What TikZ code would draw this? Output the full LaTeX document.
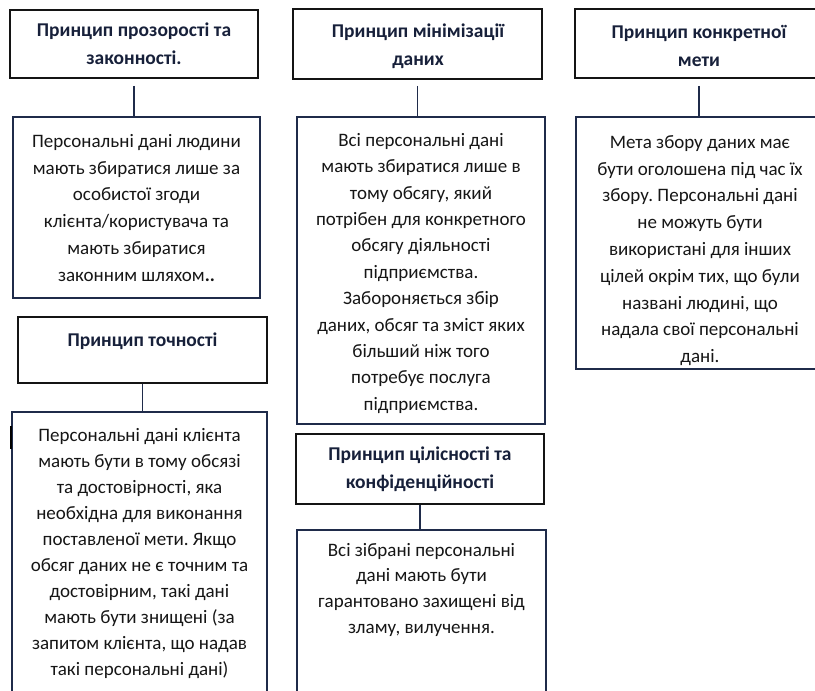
\documentclass[tikz,border=0pt]{standalone}
\usepackage{fontspec}
\setmainfont{Carlito}
\frenchspacing
\definecolor{navy}{HTML}{1F2B4A}
\definecolor{headblue}{HTML}{17203A}
\definecolor{ink}{HTML}{161616}
\tikzset{
  head/.style={draw=black!92, line width=1.8pt, fill=white, inner sep=0pt},
  body/.style={draw=navy, line width=1.8pt, fill=white, inner sep=0pt},
  headtext/.style={font=\fontsize{19.5}{28}\selectfont\bfseries, text=headblue, align=center, inner sep=0pt},
  bodytext/.style={font=\fontsize{19}{26.8}\selectfont, text=ink, align=center, inner sep=0pt, anchor=north},
  link/.style={draw=navy, line width=1.4pt}
}
\begin{document}
\begin{tikzpicture}[x=1pt,y=-1pt]
\useasboundingbox (0,0) rectangle (815,691);
\clip (0,0) rectangle (815,691);
\fill[white] (0,0) rectangle (815,691);

% left column
\node[head, minimum width=248pt, minimum height=68pt] (h1) at (134,44) {};
\node[headtext] (h1t) at (h1.center) {Принцип прозорості та\\законності.};
\node[body, minimum width=247pt, minimum height=181pt] (b1) at (136.5,207.5) {};
\node[bodytext] (b1t) at ([yshift=-18pt]b1.north) {Персональні дані людини\\мають збиратися лише за\\особистої згоди\\клієнта/користувача та\\мають збиратися\\законним шляхом\textbf{..}};

\node[head, minimum width=249pt, minimum height=66pt] (h4) at (142.5,350) {};
\node[headtext] (h4t) at (142.5,341) {Принцип точності};
\node[body, minimum width=255pt, minimum height=308pt] (b4) at (139.5,566) {};
\node[bodytext, font=\fontsize{19}{26}\selectfont] (b4t) at ([yshift=-17pt]b4.north) {Персональні дані клієнта\\мають бути в тому обсязі\\та достовірності, яка\\необхідна для виконання\\поставленої мети. Якщо\\обсяг даних не є точним та\\достовірним, такі дані\\мають бути знищені (за\\запитом клієнта, що надав\\такі персональні дані)};
\draw[black, line width=2.6pt] ([yshift=-15pt]b4.north west) -- ([yshift=-38pt]b4.north west);

% middle column
\node[head, minimum width=249pt, minimum height=70pt] (h2) at (417.5,44) {};
\node[headtext] (h2t) at (418,46) {Принцип мінімізації\\даних};
\node[body, minimum width=248pt, minimum height=307pt] (b2) at (421,270.5) {};
\node[bodytext, font=\fontsize{19}{26.4}\selectfont] (b2t) at ([yshift=-17pt]b2.north) {Всі персональні дані\\мають збиратися лише в\\тому обсягу, який\\потрібен для конкретного\\обсягу діяльності\\підприємства.\\Забороняється збір\\даних, обсяг та зміст яких\\більший ніж того\\потребує послуга\\підприємства.};

\node[head, minimum width=248pt, minimum height=70pt] (h5) at (420,469) {};
\node[headtext] (h5t) at (h5.center) {Принцип цілісності та\\конфіденційності};
\node[body, minimum width=249pt, minimum height=190pt] (b5) at (421.5,625) {};
\node[bodytext, font=\fontsize{19}{25.6}\selectfont] (b5t) at ([yshift=-14pt]b5.north) {Всі зібрані персональні\\дані мають бути\\гарантовано захищені від\\зламу, вилучення.};

% right column
\node[head, minimum width=248pt, minimum height=69pt] (h3) at (699,43.5) {};
\node[headtext] (h3t) at (699,46) {Принцип конкретної\\мети};
\node[body, minimum width=248pt, minimum height=252pt] (b3) at (700,243) {};
\node[bodytext] (b3t) at ([yshift=-19pt]b3.north) {Мета збору даних має\\бути оголошена під час їх\\збору. Персональні дані\\не можуть бути\\використані для інших\\цілей окрім тих, що були\\названі людині, що\\надала свої персональні\\дані.};

% connectors
\draw[link] ([yshift=-7pt]h1.south) -- (h1.south |- b1.north);
\draw[link] (h4.south) -- (h4.south |- b4.north);
\draw[link] ([yshift=-6pt]h2.south) -- (h2.south |- b2.north);
\draw[link] (h5.south) -- (h5.south |- b5.north);
\draw[link] ([yshift=-7pt]h3.south) -- (h3.south |- b3.north);
\end{tikzpicture}
\end{document}
